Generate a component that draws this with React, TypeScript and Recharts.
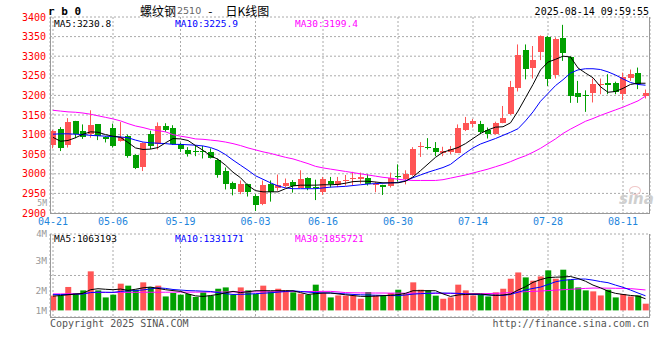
import React from "react";
import { ComposedChart, Bar, Line, XAxis, YAxis, CartesianGrid, Cell } from "recharts";

// trading days shown on the daily K chart
const dates = [
  "04-21", "04-22", "04-23", "04-24", "04-25", "04-28", "04-29", "04-30",
  "05-06", "05-07", "05-08", "05-09", "05-12", "05-13", "05-14", "05-15", "05-16", "05-19", "05-20", "05-21", "05-22", "05-23", "05-26", "05-27", "05-28", "05-29", "05-30",
  "06-03", "06-04", "06-05", "06-06", "06-09", "06-10", "06-11", "06-12", "06-13", "06-16", "06-17", "06-18", "06-19", "06-20", "06-23", "06-24", "06-25", "06-26", "06-27", "06-30",
  "07-01", "07-02", "07-03", "07-04", "07-07", "07-08", "07-09", "07-10", "07-11", "07-14", "07-15", "07-16", "07-17", "07-18", "07-21", "07-22", "07-23", "07-24", "07-25", "07-28", "07-29", "07-30", "07-31",
  "08-01", "08-04", "08-05", "08-06", "08-07", "08-08", "08-11", "08-12", "08-13", "08-14"
];

const opens = [
  3073, 3115, 3073, 3135, 3109, 3101, 3126, 3095, 3118, 3084,
  3096, 3048, 3017, 3102, 3075, 3122, 3116, 3075, 3061, 3058,
  3059, 3056, 3035, 3007, 2977, 2954, 2973, 2944, 2922, 2973,
  2965, 2969, 2980, 2965, 2990, 2967, 2954, 2982, 2971, 2982,
  2986, 2986, 2990, 2972, 2971, 2969, 2995, 2988, 2997, 3069,
  3068, 3067, 3053, 3056, 3054, 3111, 3128, 3126, 3113, 3101,
  3130, 3153, 3220, 3316, 3271, 3311, 3350, 3251, 3346, 3298,
  3205, 3201, 3205, 3227, 3231, 3232, 3204, 3245, 3256, 3198
];
const highs = [
  3112, 3119, 3142, 3135, 3126, 3162, 3127, 3096, 3128, 3132,
  3100, 3050, 3080, 3110, 3131, 3129, 3124, 3079, 3068, 3073,
  3071, 3065, 3039, 3016, 2980, 2983, 2975, 2948, 2983, 2983,
  2998, 2988, 2984, 3009, 2991, 2985, 2992, 2992, 2992, 2997,
  3005, 3003, 2999, 2980, 2972, 3003, 3024, 3009, 3068, 3081,
  3091, 3081, 3069, 3071, 3126, 3145, 3140, 3135, 3118, 3133,
  3173, 3237, 3330, 3330, 3326, 3353, 3352, 3348, 3380, 3300,
  3237, 3213, 3243, 3243, 3254, 3235, 3258, 3266, 3271, 3215
];
const lows = [
  3065, 3058, 3067, 3091, 3089, 3092, 3086, 3080, 3067, 3082,
  3041, 3012, 3007, 3063, 3062, 3107, 3074, 3056, 3044, 3045,
  3039, 3039, 2990, 2960, 2945, 2948, 2942, 2905, 2920, 2929,
  2957, 2965, 2952, 2965, 2958, 2933, 2946, 2965, 2966, 2970,
  2971, 2975, 2970, 2953, 2946, 2965, 2980, 2973, 2995, 3043,
  3062, 3045, 3045, 3050, 3053, 3109, 3118, 3101, 3090, 3100,
  3129, 3150, 3210, 3241, 3243, 3290, 3224, 3243, 3288, 3181,
  3181, 3158, 3182, 3203, 3203, 3203, 3188, 3237, 3216, 3192
];
const closes = [
  3109, 3067, 3132, 3101, 3094, 3124, 3096, 3089, 3071, 3095,
  3045, 3016, 3079, 3072, 3123, 3112, 3077, 3064, 3051, 3056,
  3057, 3041, 2997, 2975, 2960, 2975, 2954, 2920, 2971, 2954,
  2972, 2977, 2970, 2988, 2963, 2965, 2988, 2973, 2982, 2984,
  2990, 2993, 2975, 2973, 2967, 2990, 2992, 3000, 3062, 3070,
  3065, 3056, 3058, 3063, 3118, 3130, 3135, 3107, 3101, 3129,
  3142, 3221, 3303, 3268, 3290, 3352, 3243, 3345, 3309, 3199,
  3197, 3198, 3228, 3229, 3226, 3209, 3247, 3255, 3228, 3206
];

const ma5 = [
  3093, 3083, 3085, 3092, 3101, 3107, 3106, 3100, 3096, 3093,
  3080, 3066, 3062, 3063, 3067, 3079, 3090, 3089, 3085, 3072,
  3060, 3046, 3037, 3022, 3004, 2990, 2970, 2957, 2954, 2954,
  2954, 2962, 2969, 2971, 2971, 2971, 2972, 2972, 2973, 2976,
  2980, 2981, 2981, 2979, 2977, 2977, 2977, 2981, 2992, 3008,
  3025, 3042, 3055, 3061, 3067, 3077, 3090, 3103, 3112, 3119,
  3120, 3130, 3160, 3194, 3228, 3265, 3285, 3292, 3300, 3298,
  3270, 3257, 3245, 3222, 3208, 3210, 3218, 3228, 3231, 3231
];
const ma10 = [
  3101, 3102, 3102, 3101, 3100, 3098, 3097, 3096, 3095, 3094,
  3092, 3086, 3081, 3079, 3078, 3077, 3075, 3075, 3074, 3073,
  3071, 3067, 3060, 3049, 3035, 3022, 3009, 2995, 2986, 2977,
  2969, 2964, 2962, 2962, 2962, 2962, 2964, 2966, 2967, 2968,
  2970, 2972, 2974, 2975, 2976, 2977, 2978, 2982, 2990, 2997,
  3004, 3010, 3016, 3024, 3039, 3053, 3066, 3076, 3083, 3090,
  3098, 3106, 3115, 3135, 3158, 3185, 3205, 3225, 3240, 3257,
  3265, 3268, 3268, 3266, 3260, 3252, 3242, 3233, 3228, 3226
];
const ma30 = [
  3162, 3160, 3158, 3157, 3155, 3152, 3148, 3144, 3140, 3135,
  3128, 3122, 3118, 3113, 3110, 3107, 3100, 3096, 3093, 3089,
  3088, 3086, 3084, 3081, 3077, 3072, 3066, 3061, 3056, 3052,
  3047, 3042, 3038, 3032, 3026, 3019, 3015, 3012, 3009, 3006,
  3003, 3000, 2997, 2994, 2991, 2989, 2986, 2984, 2983, 2983,
  2983, 2983, 2985, 2989, 2993, 2997, 3002, 3007, 3012, 3018,
  3024, 3031, 3039, 3046, 3055, 3065, 3077, 3089, 3103, 3114,
  3124, 3134, 3141, 3149, 3156, 3163, 3170, 3178, 3186, 3198
];

const volumes = [
  1340000, 1360000, 2130000, 1580000, 1820000, 3550000, 1820000, 1180000, 1430000, 2430000,
  2250000, 1880000, 2550000, 2130000, 2250000, 1270000, 1580000, 1430000, 1490000, 1220000,
  1640000, 1340000, 1970000, 2090000, 1430000, 2090000, 1820000, 1490000, 2250000, 1730000,
  1970000, 1820000, 1640000, 1520000, 1430000, 2340000, 1580000, 1180000, 1360000, 1340000,
  1360000, 1060000, 1670000, 1360000, 1340000, 1580000, 1880000, 1490000, 2550000, 1880000,
  1820000, 1340000, 1060000, 1180000, 2340000, 1820000, 1360000, 1490000, 1270000, 1640000,
  1970000, 2880000, 3450000, 3000000, 2700000, 3090000, 3640000, 2880000, 3700000, 2790000,
  2090000, 1820000, 1730000, 1360000, 1880000, 1180000, 1490000, 1270000, 1360000, 610000
];
const volMa5 = [
  1300000, 1350000, 1420000, 1480000, 1550000, 1880000, 1970000, 1920000, 1880000, 1940000,
  1820000, 1920000, 2050000, 2120000, 2000000, 1880000, 1800000, 1730000, 1500000, 1320000,
  1270000, 1350000, 1450000, 1600000, 1730000, 1620000, 1700000, 1790000, 1790000, 1790000,
  1790000, 1790000, 1780000, 1620000, 1450000, 1520000, 1580000, 1580000, 1500000, 1420000,
  1350000, 1280000, 1270000, 1300000, 1340000, 1380000, 1430000, 1550000, 1790000, 1790000,
  1790000, 1790000, 1500000, 1270000, 1400000, 1450000, 1490000, 1490000, 1420000, 1360000,
  1400000, 1490000, 1850000, 2150000, 2550000, 2800000, 2980000, 3020000, 3040000, 3080000,
  2900000, 2650000, 2300000, 2050000, 1750000, 1550000, 1450000, 1360000, 1300000, 1060000
];
const volMa10 = [
  1430000, 1440000, 1450000, 1470000, 1490000, 1620000, 1660000, 1650000, 1640000, 1720000,
  1780000, 1800000, 1860000, 1950000, 2050000, 2000000, 1900000, 1850000, 1800000, 1780000,
  1750000, 1720000, 1620000, 1520000, 1450000, 1460000, 1480000, 1520000, 1560000, 1600000,
  1660000, 1720000, 1780000, 1720000, 1660000, 1620000, 1590000, 1580000, 1550000, 1500000,
  1450000, 1420000, 1400000, 1380000, 1360000, 1350000, 1340000, 1400000, 1480000, 1520000,
  1550000, 1580000, 1580000, 1570000, 1550000, 1500000, 1450000, 1430000, 1400000, 1380000,
  1360000, 1450000, 1650000, 1850000, 2000000, 2120000, 2350000, 2600000, 2730000, 2800000,
  2850000, 2850000, 2750000, 2620000, 2520000, 2300000, 2100000, 1850000, 1580000, 1330000
];
const volMa30 = [
  1500000, 1500000, 1510000, 1510000, 1520000, 1620000, 1630000, 1630000, 1630000, 1640000,
  1640000, 1640000, 1650000, 1650000, 1650000, 1650000, 1660000, 1660000, 1660000, 1660000,
  1670000, 1670000, 1670000, 1670000, 1680000, 1680000, 1680000, 1680000, 1690000, 1690000,
  1700000, 1700000, 1710000, 1710000, 1720000, 1720000, 1730000, 1730000, 1680000, 1620000,
  1600000, 1590000, 1580000, 1580000, 1580000, 1570000, 1570000, 1560000, 1560000, 1560000,
  1550000, 1550000, 1540000, 1540000, 1530000, 1520000, 1520000, 1520000, 1530000, 1550000,
  1580000, 1620000, 1660000, 1700000, 1730000, 1760000, 1800000, 1840000, 1880000, 1920000,
  1960000, 2000000, 2030000, 2030000, 2020000, 2010000, 2000000, 1980000, 1920000, 1860000
];

const dateTicks = ["04-21", "05-06", "05-19", "06-03", "06-16", "06-30", "07-14", "07-28", "08-11"];
const priceTicks = [2900, 2950, 3000, 3050, 3100, 3150, 3200, 3250, 3300, 3350, 3400];
const volTickLabels = ["4M", "3M", "2M", "1M"];
const priceLegend = [
  { name: "MA5", value: "3230.8", color: "#000000" },
  { name: "MA10", value: "3225.9", color: "#0000ff" },
  { name: "MA30", value: "3199.4", color: "#ff00ff" }
];
const volLegend = [
  { name: "MA5", value: "1063193", color: "#000000" },
  { name: "MA10", value: "1331171", color: "#0000ff" },
  { name: "MA30", value: "1855721", color: "#ff00ff" }
];

const RED = "#ff5555";
const GREEN = "#00a000";
const MONO = '"DejaVu Sans Mono", monospace';
const GRID = "#aaaaaa";
const FRAME = "#999999";

const rows = dates.map((d, i) => ({
  i,
  date: d,
  open: opens[i],
  high: highs[i],
  low: lows[i],
  close: closes[i],
  range: [lows[i], highs[i]],
  ma5: ma5[i],
  ma10: ma10[i],
  ma30: ma30[i],
  vol: volumes[i],
  vma5: volMa5[i],
  vma10: volMa10[i],
  vma30: volMa30[i]
}));

const tickIdx = dateTicks.map((d) => dates.indexOf(d));

// candle drawn inside the [low, high] range bar
const Candle = (props: any) => {
  const { x, y, width, height, payload } = props;
  if (!payload) return null;
  const { open, close, high, low } = payload;
  const top = Math.min(y, y + height);
  const h = Math.abs(height);
  const k = high > low ? h / (high - low) : 0;
  const py = (p: number) => top + (high - p) * k;
  const color = close >= open ? RED : GREEN;
  const cx = Math.round(x + width / 2) - 0.5;
  const bTop = Math.round(py(Math.max(open, close)));
  const bH = Math.max(1, Math.round(py(Math.min(open, close))) - bTop);
  return (
    <g>
      <line x1={cx} x2={cx} y1={top} y2={top + h} stroke={color} strokeWidth={1} />
      <rect x={Math.round(x)} y={bTop} width={width} height={bH} fill={color} />
    </g>
  );
};

const Txt = ({ x, y, children, color = "#000", size = 10, align = "left", font = MONO, weight = 400 }: any) => (
  <div
    style={{
      position: "absolute",
      left: x,
      top: y,
      transform: `translate(${align === "right" ? "-100%" : "0"}, -50%)`,
      color,
      fontSize: size,
      fontFamily: font,
      fontWeight: weight,
      whiteSpace: "nowrap",
      lineHeight: 1
    }}
  >
    {children}
  </div>
);

const Rule = ({ left, top, width, height }: any) => (
  <div style={{ position: "absolute", left, top, width, height, background: FRAME }} />
);

const volLabelY = [233.5, 261, 291, 311];

export default function App() {
  return (
    <div style={{ position: "fixed", left: 0, top: 0, width: 660, height: 360, background: "#fff", overflow: "hidden" }}>
      <div style={{ position: "absolute", left: 0, top: 0 }}>
        <ComposedChart width={660} height={232} data={rows} margin={{ top: 17, right: 10, bottom: 0, left: 0 }}>
          <CartesianGrid stroke={GRID} strokeDasharray="2 2" />
          <XAxis
            dataKey="i"
            type="number"
            domain={[-0.4, 79.6]}
            allowDataOverflow
            ticks={tickIdx}
            interval={0}
            tickFormatter={(v: number) => dates[v]}
            height={19}
            axisLine={false}
            tickLine={false}
            tickSize={0}
            tickMargin={5}
            tick={{ fill: "#1f86dc", fontSize: 10, fontFamily: MONO }}
          />
          <YAxis
            type="number"
            domain={[2900, 3400]}
            allowDataOverflow
            ticks={priceTicks}
            interval={0}
            width={50}
            axisLine={false}
            tickLine={false}
            tickSize={4}
            tickMargin={0}
            tick={{ fill: "#ff0000", fontSize: 10, fontFamily: MONO }}
          />
          <Bar dataKey="range" barSize={6} isAnimationActive={false} shape={(p: any) => <Candle {...p} />} />
          <Line dataKey="ma30" stroke="#ff00ff" strokeWidth={1} dot={false} type="linear" isAnimationActive={false} />
          <Line dataKey="ma10" stroke="#0000ff" strokeWidth={1} dot={false} type="linear" isAnimationActive={false} />
          <Line dataKey="ma5" stroke="#000000" strokeWidth={1} dot={false} type="linear" isAnimationActive={false} />
        </ComposedChart>
      </div>

      <div style={{ position: "absolute", left: 0, top: 230 }}>
        <ComposedChart width={660} height={90} data={rows} margin={{ top: 4, right: 10, bottom: 3, left: 50 }}>
          <CartesianGrid stroke={GRID} strokeDasharray="2 2" />
          <XAxis dataKey="i" type="number" domain={[-0.4, 79.6]} allowDataOverflow ticks={tickIdx} hide />
          <YAxis type="number" domain={[-600000, 6945000]} allowDataOverflow ticks={[1286000, 3173000, 5059000, 6945000]} hide />
          <Bar dataKey="vol" barSize={6} isAnimationActive={false}>
            {rows.map((r, i) => (
              <Cell key={`v-${i}`} fill={r.close >= r.open ? RED : GREEN} />
            ))}
          </Bar>
          <Line dataKey="vma30" stroke="#ff00ff" strokeWidth={1} dot={false} type="linear" isAnimationActive={false} />
          <Line dataKey="vma10" stroke="#0000ff" strokeWidth={1} dot={false} type="linear" isAnimationActive={false} />
          <Line dataKey="vma5" stroke="#000000" strokeWidth={1} dot={false} type="linear" isAnimationActive={false} />
        </ComposedChart>
      </div>

      {/* panel frames */}
      <Rule left={50} top={17} width={1} height={197} />
      <Rule left={649} top={17} width={1} height={197} />
      <Rule left={50} top={213} width={600} height={1} />
      <Rule left={50} top={234} width={1} height={84} />
      <Rule left={649} top={234} width={1} height={84} />
      <Rule left={50} top={317} width={600} height={1} />

      {/* header */}
      <Txt x={48} y={11} size={11} weight={700}>r b 0</Txt>
      <div style={{ position: "absolute", left: 140, top: 4, display: "flex", alignItems: "center", whiteSpace: "nowrap", lineHeight: "14px" }}>
        <span style={{ fontFamily: '"Noto Sans CJK SC", sans-serif', fontSize: 12, color: "#000" }}>螺纹钢</span>
        <span style={{ fontFamily: '"DejaVu Sans", sans-serif', fontSize: 9.5, color: "#666", marginLeft: 1 }}>2510</span>
        <span style={{ fontFamily: '"Noto Sans CJK SC", sans-serif', fontSize: 12, color: "#000", marginLeft: 7 }}>-</span>
        <span style={{ fontFamily: '"Noto Sans CJK SC", sans-serif', fontSize: 12, color: "#000", marginLeft: 13 }}>日K线图</span>
      </div>
      <Txt x={649} y={12} align="right">2025-08-14 09:59:55</Txt>

      {/* price legend */}
      {priceLegend.map((m, k) => (
        <Txt key={m.name} x={[54, 175, 295][k]} y={24} size={9.5} color={m.color}>{`${m.name}:${m.value}`}</Txt>
      ))}

      {/* volume labels */}
      <Txt x={47} y={203.5} size={8} align="right" color="#999">5M</Txt>
      {volTickLabels.map((t, k) => (
        <Txt key={t} x={47} y={volLabelY[k]} size={k === 0 ? 9 : 9.5} align="right" color="#999">{t}</Txt>
      ))}
      {volLegend.map((m, k) => (
        <Txt key={m.name} x={[54, 175, 295][k]} y={239} size={9.5} color={m.color}>{`${m.name}:${m.value}`}</Txt>
      ))}

      {/* watermark */}
      <div style={{ position: "absolute", left: 629, top: 186, width: 10, height: 7, borderRadius: "50%", border: "1px solid #f0c8c8" }} />
      <Txt x={619} y={199} size={15} color="#cfcfcf" font='"DejaVu Sans", sans-serif' weight={700}>
        <i>sina</i>
      </Txt>

      {/* footer */}
      <Txt x={50} y={324} color="#555">Copyright 2025 SINA.COM</Txt>
      <Txt x={649} y={324} align="right" color="#555">http://finance.sina.com.cn</Txt>
    </div>
  );
}
